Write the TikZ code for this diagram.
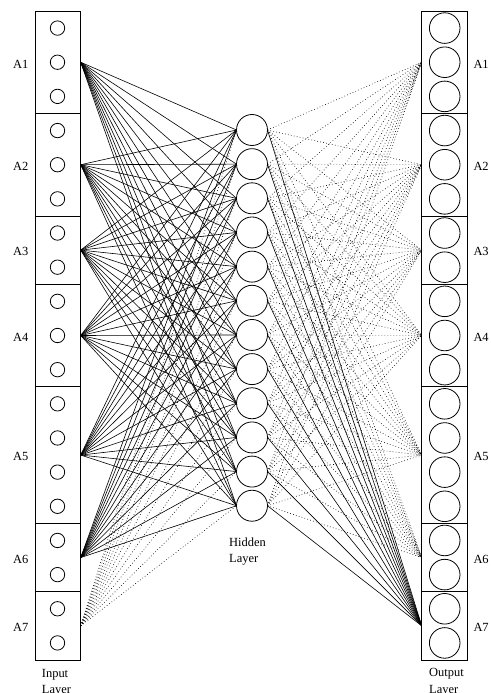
\documentclass[tikz,border=0pt]{standalone}
\usepackage{fontspec}
\setmainfont{Liberation Serif}
\begin{document}
\begin{tikzpicture}[x=1bp,y=-1bp,
  gbox/.style={draw, line width=0.8bp, rectangle, inner sep=0, outer sep=0, minimum width=45.7bp},
  hid/.style={draw, circle, line width=0.8bp, inner sep=0, outer sep=0, minimum size=31bp},
  circ/.style={line width=0.8bp},
  lab/.style={font=\fontsize{12.5}{17}\selectfont, inner sep=0},
  con/.style={line width=0.6bp},
  dcon/.style={line width=0.6bp, dash pattern=on 0.7bp off 2.3bp}]
\useasboundingbox (0,0) rectangle (491,693);
% group boxes and labels
\foreach \i/\c/\n in {1/1.5/3, 2/4.5/3, 3/7/2, 4/9.5/3, 5/13/4, 6/16/2, 7/18/2} {
  \pgfmathsetmacro\yc{11+34.158*\c}
  \pgfmathsetmacro\hh{34.158*\n}
  \node[gbox, minimum height=\hh bp] (in\i) at (57.85,\yc) {};
  \node[gbox, minimum height=\hh bp, minimum width=46bp] (out\i) at (444.7,\yc) {};
  \node[lab, anchor=east] (lin\i) at (28.5,\yc+1.8) {A\i};
  \node[lab, anchor=west] (lout\i) at (473.3,\yc+1.8) {A\i};
}
% unit circles
\foreach \s in {0,...,18} {
  \pgfmathsetmacro\ys{11+34.158*(\s+0.5)}
  \draw[circ] (57.5,\ys) circle[radius=7.2];
  \draw[circ] (444.7,\ys) circle[radius=15.3];
}
% hidden layer
\foreach \j in {1,...,12} {
  \node[hid] (h\j) at (252,{130+34.158*(\j-1)}) {};
}
% connections input -> hidden
\foreach \i in {1,...,6} {
  \foreach \j in {1,...,12} {
    \draw[con] (in\i.east) -- (h\j.west);
  }
}
\foreach \j in {1,...,12} {
  \draw[dcon] (in7.east) -- (h\j.west);
}
% connections hidden -> output
\foreach \i in {1,...,6} {
  \foreach \j in {1,...,12} {
    \draw[dcon] (h\j.east) -- (out\i.west);
  }
}
\foreach \j in {1,...,12} {
  \draw[con] (h\j.east) -- (out7.west);
}
% layer labels
\node[lab, align=left, anchor=north west] (inlab) at (41.7,668.7) {Input\\Layer};
\node[lab, align=left, anchor=north west] (hidlab) at (229,537.2) {Hidden\\Layer};
\node[lab, align=left, anchor=north west] (outlab) at (429,668.5) {Output\\Layer};
\end{tikzpicture}
\end{document}
